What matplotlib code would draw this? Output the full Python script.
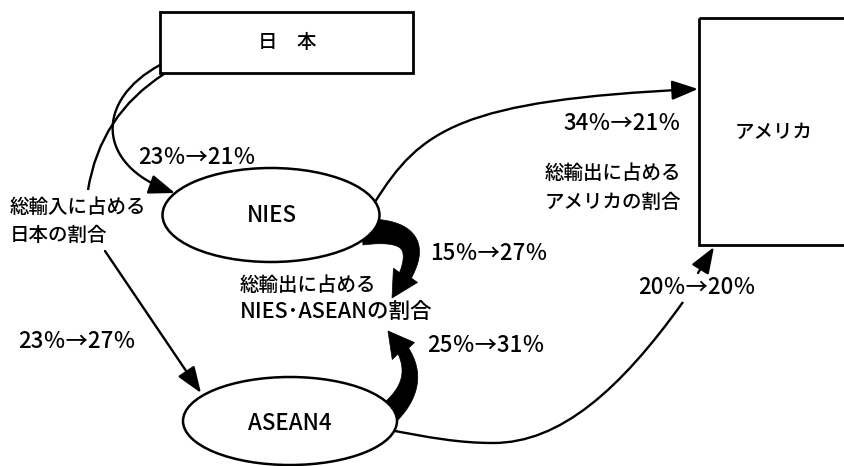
import numpy as np
import matplotlib
matplotlib.use("Agg")
import matplotlib.pyplot as plt
from matplotlib.patches import Rectangle, Ellipse, FancyArrowPatch, PathPatch, Polygon
from matplotlib.path import Path

plt.rcParams['font.family'] = ['Noto Sans CJK JP', 'DejaVu Sans']
plt.rcParams['font.weight'] = 500

# ノード
boxes = ["日　本", "アメリカ"]
ovals = ["NIES", "ASEAN4"]

# 流れごとのシェア（前 → 後, %）
flows = ["日本→NIES", "日本→ASEAN4", "NIES→アメリカ",
         "NIES→NIES・ASEAN", "ASEAN4→NIES・ASEAN", "ASEAN4→アメリカ"]
share_before = [23, 23, 34, 15, 25, 20]
share_after = [21, 27, 21, 27, 31, 20]

# 説明ラベル
notes = [["総輸入に占める", "日本の割合"],
         ["総輸出に占める", "アメリカの割合"],
         ["総輸出に占める", "NIES･ASEANの割合"]]

fig = plt.figure(figsize=(8.44, 4.66), dpi=100)
ax = fig.add_axes([0, 0, 1, 1])
ax.set_xlim(0, 844)
ax.set_ylim(466, 0)
ax.axis('off')

LW = 1.7
HEAD = '-|>,head_length=1.6,head_width=0.6'


def thin_arrow(verts, codes, head=True):
    p = Path(verts, codes)
    if head:
        a = FancyArrowPatch(path=p, arrowstyle=HEAD, mutation_scale=10,
                            lw=LW, color='black', zorder=4)
    else:
        a = PathPatch(p, fill=False, lw=LW, color='black', zorder=2)
    ax.add_patch(a)


def thick_arrow(p0, c, p1, w0, w1, head_w, head_len):
    p0, c, p1 = np.array(p0, float), np.array(c, float), np.array(p1, float)
    t = np.linspace(0, 1, 300)[:, None]
    pts = (1 - t) ** 2 * p0 + 2 * (1 - t) * t * c + t ** 2 * p1
    s = np.concatenate([[0], np.cumsum(np.hypot(*np.diff(pts, axis=0).T))])
    body = pts[s <= s[-1] - head_len]
    d = np.gradient(body, axis=0)
    d /= np.hypot(d[:, 0], d[:, 1])[:, None]
    n = np.stack([-d[:, 1], d[:, 0]], axis=1)
    w = np.linspace(w0, w1, len(body))[:, None] / 2
    left, right = body + n * w, body - n * w
    base = body[-1]
    dr = (p1 - base) / np.hypot(*(p1 - base))
    nb = np.array([-dr[1], dr[0]])
    head = np.array([base + nb * head_w / 2, p1, base - nb * head_w / 2])
    poly = np.vstack([left, head, right[::-1]])
    ax.add_patch(Polygon(poly, closed=True, fc='black', ec='black', lw=0.5, zorder=2))


# 箱
ax.add_patch(Rectangle((160, 12), 253, 61, fill=False, lw=2, zorder=3))
ax.add_patch(Rectangle((699, 18), 200, 227, fill=False, lw=2, zorder=3))
ax.text(287, 43, boxes[0], ha='center', va='center', fontsize=14)
ax.text(774, 132, boxes[1], ha='center', va='center', fontsize=14)

# 楕円
ax.add_patch(Ellipse((271, 215), 217, 94, fc='white', ec='black', lw=1.8, zorder=3))
ax.add_patch(Ellipse((290, 421), 214, 88, fc='white', ec='black', lw=1.8, zorder=3))
ax.text(272, 215, ovals[0], ha='center', va='center', fontsize=16, zorder=5)
ax.text(290, 423, ovals[1], ha='center', va='center', fontsize=16, zorder=5)

C3, C4, M, L = Path.CURVE3, Path.CURVE4, Path.MOVETO, Path.LINETO

# 日本 → NIES
thin_arrow([(160, 65), (95, 100), (95, 165), (175, 193)], [M, C4, C4, C4])
# 日本 → 説明ラベル
thin_arrow([(164, 74), (100, 115), (88, 190)], [M, C3, C3], head=False)
# 日本 → ASEAN4
thin_arrow([(105, 251), (201, 393)], [M, L])
# NIES → アメリカ
thin_arrow([(375, 202), (420, 130), (460, 100), (698, 89)], [M, C4, C4, C4])
# ASEAN4 → アメリカ
thin_arrow([(380, 428), (430, 438), (460, 443), (493, 443),
            (560, 443), (620, 390), (683, 302)],
           [M, C4, C4, C4, C4, C4, C4], head=False)
thin_arrow([(698, 273), (714, 247)], [M, L])

# 太い矢印
thick_arrow((362, 232), (442, 226), (392, 298), 26, 13, 28, 26)
thick_arrow((378, 422), (436, 380), (388, 331), 24, 12, 28, 25)

# シェアのラベル
pos = [(138, 157), (18, 342), (563, 123), (430, 253), (427, 345), (638, 288)]
for (x, y), a, b in zip(pos, share_before, share_after):
    ax.text(x, y, f"{a}％→{b}％", ha='left', va='center', fontsize=16)

# 説明ラベル
note_pos = [[(10, 207), (10, 235)], [(545, 173), (545, 202)], [(240, 285), (240, 313)]]
note_size = [[14, 14], [14, 14], [14, 15.5]]
for lines, ps, fs in zip(notes, note_pos, note_size):
    for s, (x, y), f in zip(lines, ps, fs):
        ax.text(x, y, s, ha='left', va='center', fontsize=f)

fig.savefig("out.png", dpi=100)
